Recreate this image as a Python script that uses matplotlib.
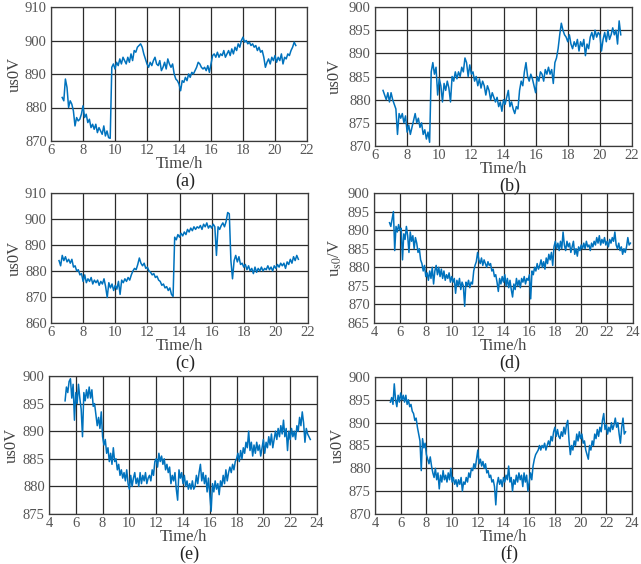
import numpy as np
import matplotlib
matplotlib.use("Agg")
import matplotlib.pyplot as plt

plt.rcParams['font.family'] = ['Liberation Serif', 'DejaVu Serif']
plt.rcParams['mathtext.fontset'] = 'stix'

STEP_H = 0.1  # sampling interval of the logged voltage, hours

# ---- (a) ----
start_a = 6.7
volt_a = [883, 882, 888.5, 886, 880, 882, 881, 879, 874.5, 877, 876, 876.5, 878, 880.5, 877, 878,
          875.5, 876.5, 874, 875, 873.5, 875, 872.5, 874, 873, 872, 874.5, 871.5, 873, 871, 870.8,
          892, 893, 891.5, 893.5, 892.5, 894.5, 893, 895, 894, 893, 895, 893.5, 896, 894, 897,
          896.5, 898, 898.5, 899, 898, 896, 894.5, 893, 892, 893.5, 892.5, 894, 895, 893, 892.5,
          894, 891, 892, 893.5, 891.5, 894.5, 893, 892, 893, 890, 888.5, 888, 887, 885, 888,
          887.5, 889, 888, 890, 889, 890.5, 890, 891, 892, 893.5, 893, 892, 891.5, 892, 891,
          892.5, 890.5, 893, 895.5, 896, 895, 896.5, 895, 896, 895.5, 897, 895, 896, 897, 895.5,
          897.5, 896, 898, 897, 899, 898, 900, 901, 899.5, 900, 899, 899.5, 898.5, 899, 898,
          898.5, 897, 898, 896.5, 897, 895, 892, 893.5, 894.5, 893, 895, 894, 895.5, 893.5, 895,
          894, 896, 893, 895, 894.5, 896, 895.5, 897, 898, 899.5, 898.5]

# ---- (b) ----
start_b = 6.5
volt_b = [882, 881, 880, 881.5, 879.5, 881.5, 880, 879, 878, 872.5, 877, 876, 877, 875, 876.5,
          873, 874.5, 872.5, 874, 875.5, 877, 875, 876, 874, 875, 872.5, 873.5, 871.5, 873, 870.8,
          886, 888, 885.5, 887, 881, 884.5, 883, 879.5, 883.5, 882, 884, 882.5, 879.5, 885, 884,
          886, 884.5, 886, 885, 887, 886, 889, 888, 885, 887.5, 885.5, 886, 884, 885, 883, 884.5,
          882.5, 884, 883, 881, 883, 882, 880, 881.5, 880.5, 879.5, 880.5, 878.5, 879.5, 877.5,
          880, 879, 880.5, 882, 878.5, 879.5, 878, 877, 878.5, 878, 882, 884, 883, 886, 888, 885,
          884, 885.5, 884.5, 883, 881.5, 885, 884, 886, 885.5, 884, 886.5, 885.5, 887, 885.5,
          886.5, 883.5, 888, 889, 891, 894, 896.5, 895, 894, 893.5, 892.5, 894, 892, 891, 892.5,
          891.5, 893, 890.5, 892.5, 891.5, 893, 889.5, 892, 891, 893.5, 894.5, 893, 895, 893.5,
          894.5, 894, 890.5, 893, 894.5, 892.5, 895, 893, 894, 895.5, 894, 895, 892, 897, 894]

# ---- (c) ----
start_c = 6.5
volt_c = [884, 882, 886, 884, 885.5, 883.5, 884.5, 883, 884.5, 881.5, 882, 880, 880.5, 878.5,
          879, 876, 878.5, 875.5, 877, 876, 877.5, 875, 876.5, 875.5, 876.5, 874.5, 876, 875, 877,
          874, 869.8, 875.5, 873.5, 875, 872.5, 874.5, 873, 876, 871, 876.5, 875.5, 877, 876,
          877.5, 876.5, 878.5, 880, 881, 880.5, 882.5, 885, 883, 882, 883, 881, 881.5, 880, 879.5,
          878.5, 879, 877.5, 878, 876.5, 876, 874.5, 875, 873.5, 874, 872.5, 873.5, 871, 870.2,
          893, 892, 894, 893, 894.5, 893.5, 895, 894, 896, 895, 896.5, 895.5, 897, 896, 897,
          896.5, 897.5, 896, 898, 897, 898.5, 896.5, 897.5, 896.5, 898, 897, 886, 897, 896,
          897.5, 898.5, 897, 899, 902.5, 902, 884, 877, 884, 886, 883.5, 885.5, 882.5, 883,
          881.5, 882.5, 880.5, 882, 880, 881, 879, 881.5, 879.5, 881, 880, 881.5, 880, 881,
          880.5, 882, 880.5, 881.5, 880, 882, 881, 882.5, 881.5, 883, 882, 883, 881, 883.5,
          882.5, 884.5, 883, 885.5, 884, 886, 884.5]

# ---- (d) ----
start_d = 5.2
volt_d = [892, 891, 893, 895, 884.5, 891, 889.5, 891.5, 890, 890.5, 882, 889, 887.5, 891, 888.5,
          884, 889.5, 887, 888.5, 885, 888, 886.5, 884, 885, 882, 881, 879, 880.5, 877.5, 878.5,
          876.5, 879, 877, 880, 875.5, 879, 880.5, 878, 880, 877.5, 879.5, 877, 879, 876.5, 878,
          877, 878.5, 876, 877.5, 876, 877, 873, 876.5, 875, 877, 874, 876, 875, 869.5, 876, 875,
          876.5, 874.5, 876, 875.5, 879, 880.5, 881.5, 884, 882, 881, 882.5, 880.5, 882, 881,
          880, 881.5, 880.5, 881, 879, 879.5, 877.5, 878, 876, 873.5, 877, 875.5, 877.5, 876,
          878, 875, 877, 874.5, 876.5, 874, 872, 875.5, 874, 877, 875, 876.5, 874.5, 877, 876,
          877.5, 875.5, 877, 876.5, 878, 871.5, 879, 878, 880, 879, 881, 879.5, 880.5, 882, 880,
          881.5, 879.5, 882.5, 881, 883.5, 882, 884, 880.5, 885.5, 887, 885, 886.5, 884.5, 887,
          885, 889.5, 886, 884.5, 887, 885.5, 886.5, 884, 885.5, 887, 883.5, 885, 883, 885.5,
          884.5, 886, 885, 886.5, 885, 887, 885.5, 886, 884.5, 886.5, 885.5, 887, 886, 888,
          886.5, 888.5, 886, 887.5, 886.5, 888, 886, 887, 885.5, 887.5, 886.5, 888, 887, 889.5,
          886, 885, 886.5, 884.5, 885.5, 883.5, 885, 884, 885.5, 888, 886, 886.5]

# ---- (e) ----
start_e = 5.2
volt_e = [895.5, 898, 897, 899, 899.5, 896, 898.5, 892, 897, 895, 898.5, 896, 894, 889, 897,
          895.5, 897.5, 896, 898, 896, 897.5, 894.5, 895, 893, 891, 892.5, 890.5, 893.5, 889,
          887.5, 888.5, 886, 887, 884.5, 886, 884, 887, 884.5, 885, 883, 884, 882, 883, 881.5,
          882.5, 881, 883, 880.5, 879.5, 882, 880, 881.5, 882.5, 880.5, 881.5, 880, 882.5, 880.5,
          882, 881, 882.5, 880.5, 881.5, 882, 881, 883, 882, 884.5, 885, 883.5, 886, 884.5,
          885.5, 884, 885, 883, 884, 882.5, 883.5, 880.5, 882, 881, 882.5, 879.5, 877.5, 883,
          881.5, 882.5, 880.5, 882, 880, 881, 879.5, 880.5, 879.5, 881, 879.5, 880, 882, 880.5,
          882.5, 884, 881, 882.5, 880.5, 882, 879, 881.5, 878.5, 875.5, 880.5, 879, 881, 879.5,
          880.5, 878.5, 881, 880, 882, 880.5, 883, 881, 882.5, 883.5, 882.5, 884, 883, 884.5,
          885, 886, 884.5, 886.5, 885, 887, 886, 888, 887, 890, 886.5, 888, 885.5, 887.5, 886,
          888, 886.5, 887.5, 885.5, 887, 888.5, 886, 888, 887, 889, 887.5, 889.5, 887, 888.5,
          890, 888.5, 890.5, 889, 891, 889.5, 892, 889, 890.5, 886.5, 890, 888.5, 890.5, 889,
          890, 888.5, 891, 890, 892.5, 891, 893.5, 891.5, 888, 890.5, 889.5, 889, 888.5]

# ---- (f) ----
start_f = 5.2
volt_f = [894.5, 895.5, 894, 898.5, 895, 893.5, 896, 894.5, 896.5, 895, 896, 894.5, 896, 894,
          895, 893.5, 894, 892.5, 892, 890.5, 891, 889, 887.5, 886, 879.5, 886.5, 884.5, 885.5,
          883, 882, 881, 882.5, 880.5, 879, 878, 880, 877.5, 879, 875.5, 878.5, 877, 879.5,
          877.5, 878.5, 877, 879, 877.5, 880, 877, 878, 876.5, 877.5, 876, 877.5, 876.5, 878,
          875, 877, 876.5, 878, 877, 879, 878, 880, 879.5, 881, 880, 882, 884, 881, 882, 880.5,
          881.5, 880, 881, 879, 879.5, 878, 878.5, 877, 877.5, 876, 872, 876.5, 878, 876.5,
          877.5, 876, 878, 877, 878.5, 877.5, 880.5, 877, 878, 875, 877.5, 876.5, 878.5, 877,
          879, 877.5, 878.5, 876, 879, 877, 878.5, 875, 877, 879, 877.5, 880.5, 882, 883, 883.5,
          884, 885, 884, 885, 884.5, 885.5, 884, 885, 886, 885, 887, 886, 888, 889, 887, 888.5,
          887, 886.5, 888, 887, 889, 887.5, 889.5, 890.5, 886, 883, 885, 884, 886, 885, 887.5,
          886, 888, 886.5, 887.5, 885.5, 886, 884, 883, 882, 885, 884, 886, 885, 887.5, 886.5,
          888.5, 887, 889, 888, 890.5, 892, 888.5, 889.5, 887.5, 889, 888, 890, 888.5, 889.5,
          891, 889, 890, 887.5, 885.5, 889, 891, 887.5, 888]

PANELS = [
    # letter, start, values, xlim, xticks, ylim, yticks, y label, axes box in px (left, top, right, bottom), y-label x in px
    ('a', start_a, volt_a, (6, 22), range(6, 23, 2), (870, 910), range(870, 911, 10), 'us0V', (51, 7, 307, 141), 15),
    ('b', start_b, volt_b, (6, 22), range(6, 23, 2), (870, 900), range(870, 901, 5), 'us0V', (375, 7, 632, 146), 335),
    ('c', start_c, volt_c, (6, 22), range(6, 23, 2), (860, 910), range(860, 911, 10), 'us0V', (51, 193, 308, 323), 15),
    ('d', start_d, volt_d, (4, 24), range(4, 25, 2), (865, 900), range(865, 901, 5), r'u$_{\rm s0}$/V', (374, 193, 633, 323), 335),
    ('e', start_e, volt_e, (4, 24), range(4, 25, 2), (875, 900), range(875, 901, 5), 'us0V', (49, 376, 317, 514), 12),
    ('f', start_f, volt_f, (4, 24), range(4, 25, 2), (870, 900), range(870, 901, 5), 'us0V', (375, 377, 632, 514), 338),
]

W, H = 641, 564
fig = plt.figure(figsize=(W / 100, H / 100), dpi=100)

LINE_BLUE = '#0072BD'
GRID = '#2b2b2b'
TICK_GRAY = '#555555'

for letter, t0, vals, xlim, xticks, ylim, yticks, ylab, (l, t, r, b), ylx in PANELS:
    ax = fig.add_axes([l / W, 1 - b / H, (r - l) / W, (b - t) / H])
    times = t0 + STEP_H * np.arange(len(vals))
    ax.plot(times, vals, color=LINE_BLUE, lw=1.1, zorder=3)
    ax.set_xlim(*xlim)
    ax.set_ylim(*ylim)
    ax.set_xticks(list(xticks))
    ax.set_yticks(list(yticks))
    ax.grid(True, color=GRID, lw=0.9)
    ax.tick_params(axis='x', length=0, pad=2, labelsize=10.5, labelcolor=TICK_GRAY)
    ax.tick_params(axis='y', length=0, pad=3, labelsize=10.5, labelcolor=TICK_GRAY)
    for s in ax.spines.values():
        s.set_color('#3a3a3a')
        s.set_linewidth(0.9)
    cx = (l + r) / 2 / W
    fig.text(cx, 1 - (b + 23) / H, 'Time/h', ha='center', va='center', fontsize=12, color='#444444')
    fig.text(cx + 6 / W, 1 - (b + 40) / H, f'({letter})', ha='center', va='center', fontsize=13, color='#222222')
    fig.text(ylx / W, 1 - (t + b) / 2 / H, ylab, rotation=90, ha='center', va='center', fontsize=12, color='#444444')

fig.savefig('out.png', dpi=100)
